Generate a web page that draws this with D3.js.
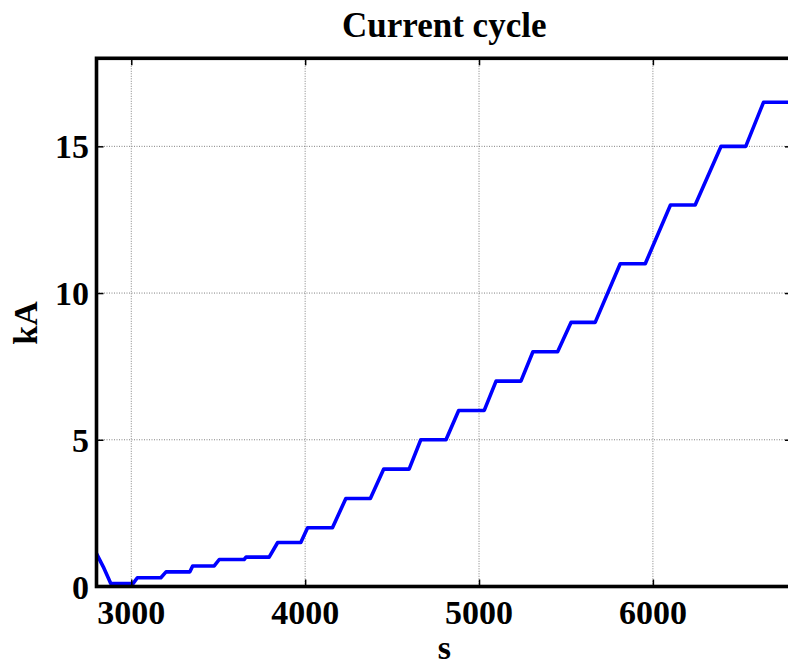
<!DOCTYPE html>
<html>
<head>
<meta charset="utf-8">
<script src="https://cdn.jsdelivr.net/npm/d3@7"></script>
<style>
body{margin:0;background:#fff;}
svg{display:block;overflow:hidden;}
</style>
</head>
<body>
<script>
// breakpoints of the current trace (s, kA)
var timeS=[2800,2839,2868,2882,3010,3035,3170,3200,3337,3353,3477,3506,3649,3660,3793,3842,3975,4014,4157,4234,4375,4452,4598,4665,4810,4883,5030,5098,5241,5310,5452,5529,5668,5812,5956,6101,6243,6392,6534,6636,6800];
var currentKA=[1.12,0.67,0.29,0.1,0.1,0.3,0.3,0.5,0.5,0.7,0.7,0.92,0.92,1.0,1.0,1.5,1.5,2.0,2.0,3.0,3.0,4.0,4.0,5.0,5.0,6.0,6.0,7.0,7.0,8.0,8.0,9.0,9.0,11.0,11.0,13.0,13.0,15.0,15.0,16.5,16.5];
var xTicks=[3000,4000,5000,6000];
var yTicks=[0,5,10,15];
var yGrid=[5,10,15];

var drawChart=function()
{
  var width=788;
  var height=665;
  var left=96.5, right=792, top=58.3, bottom=586.5;
  var font="'Liberation Serif','Times New Roman',serif";

  var svg=d3.select("body").append("svg")
            .attr("width",width)
            .attr("height",height);

  var x=d3.scaleLinear().domain([2800,6800]).range([left,right]);
  var y=d3.scaleLinear().domain([0,18]).range([bottom,top]);

  // grid
  svg.selectAll("line.vgrid")
     .data(xTicks)
     .enter()
     .append("line")
     .attr("class","vgrid")
     .attr("x1",function(d){ return x(d); })
     .attr("x2",function(d){ return x(d); })
     .attr("y1",top)
     .attr("y2",bottom)
     .attr("stroke","#808080")
     .attr("stroke-width",1)
     .attr("stroke-dasharray","1,1.5");
  svg.selectAll("line.hgrid")
     .data(yGrid)
     .enter()
     .append("line")
     .attr("class","hgrid")
     .attr("x1",left)
     .attr("x2",right)
     .attr("y1",function(d){ return y(d); })
     .attr("y2",function(d){ return y(d); })
     .attr("stroke","#808080")
     .attr("stroke-width",1)
     .attr("stroke-dasharray","1,1.5");

  // trace
  var pts=timeS.map(function(t,i){ return [t,currentKA[i]]; });
  var line=d3.line()
             .x(function(d){ return x(d[0]); })
             .y(function(d){ return y(d[1]); });
  svg.append("path")
     .datum(pts)
     .attr("d",line)
     .attr("fill","none")
     .attr("stroke","#0000ff")
     .attr("stroke-width",3.6)
     .attr("stroke-linejoin","round");

  // axes, ticks inside on all four sides
  var xb=d3.axisTop(x).tickValues(xTicks).tickSize(7).tickFormat("");
  var xt=d3.axisBottom(x).tickValues(xTicks).tickSize(7).tickFormat("");
  var yl=d3.axisRight(y).tickValues(yTicks).tickSize(7).tickFormat("");
  var yr=d3.axisLeft(y).tickValues(yTicks).tickSize(7).tickFormat("");
  svg.append("g").attr("transform","translate(0,"+bottom+")").call(xb);
  svg.append("g").attr("transform","translate(0,"+top+")").call(xt);
  svg.append("g").attr("transform","translate("+left+",0)").call(yl);
  svg.append("g").attr("transform","translate("+right+",0)").call(yr);
  svg.selectAll(".domain").remove();
  svg.selectAll(".tick line").attr("stroke","#000").attr("stroke-width",1.5);

  svg.append("rect")
     .attr("x",left)
     .attr("y",top)
     .attr("width",right-left)
     .attr("height",bottom-top)
     .attr("fill","none")
     .attr("stroke","#000")
     .attr("stroke-width",3.6);

  // tick labels
  svg.selectAll("text.xlab")
     .data(xTicks)
     .enter()
     .append("text")
     .attr("class","xlab")
     .text(function(d){ return d; })
     .attr("x",function(d){ return x(d); })
     .attr("y",624)
     .attr("text-anchor","middle")
     .attr("font-family",font)
     .attr("font-weight","bold")
     .attr("font-size",34);
  svg.selectAll("text.ylab")
     .data(yTicks)
     .enter()
     .append("text")
     .attr("class","ylab")
     .text(function(d){ return d; })
     .attr("x",89)
     .attr("y",function(d){ return y(d)+12; })
     .attr("text-anchor","end")
     .attr("font-family",font)
     .attr("font-weight","bold")
     .attr("font-size",34);

  // titles
  svg.append("text")
     .text("Current cycle")
     .attr("x",(left+right)/2)
     .attr("y",37)
     .attr("text-anchor","middle")
     .attr("font-family",font)
     .attr("font-weight","bold")
     .attr("font-size",35);
  svg.append("text")
     .text("s")
     .attr("x",(left+right)/2)
     .attr("y",659)
     .attr("text-anchor","middle")
     .attr("font-family",font)
     .attr("font-weight","bold")
     .attr("font-size",34);
  svg.append("text")
     .text("kA")
     .attr("transform","translate(37,323) rotate(-90)")
     .attr("text-anchor","middle")
     .attr("font-family",font)
     .attr("font-weight","bold")
     .attr("font-size",34);
}

drawChart();
</script>
</body>
</html>
